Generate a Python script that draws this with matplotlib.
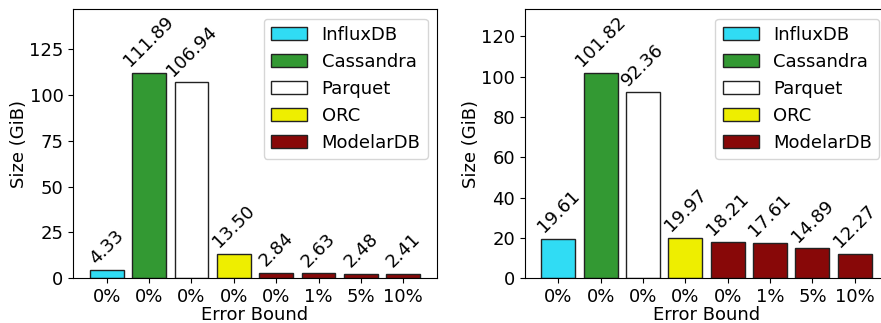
import matplotlib
matplotlib.use("Agg")
import matplotlib.pyplot as plt
from matplotlib.patches import Patch

# data
systems = ["InfluxDB", "Cassandra", "Parquet", "ORC",
           "ModelarDB", "ModelarDB", "ModelarDB", "ModelarDB"]
bounds = ["0%", "0%", "0%", "0%", "0%", "1%", "5%", "10%"]
sizes_left = [4.33, 111.89, 106.94, 13.50, 2.84, 2.63, 2.48, 2.41]
sizes_right = [19.61, 101.82, 92.36, 19.97, 18.21, 17.61, 14.89, 12.27]
left_ticks = [0, 25, 50, 75, 100, 125]
right_ticks = [0, 20, 40, 60, 80, 100, 120]

colors = {
    "InfluxDB": "#30dcf4",
    "Cassandra": "#339933",
    "Parquet": "#ffffff",
    "ORC": "#eeee00",
    "ModelarDB": "#880808",
}
FS = 13


def plot_sizes(ax, sizes, yticks):
    xs = list(range(len(sizes)))
    ax.bar(xs, sizes, width=0.8, color=[colors[s] for s in systems],
           edgecolor="#222222", linewidth=1.0)
    for x, h in zip(xs, sizes):
        ax.annotate("%.2f" % h, (x, h), xytext=(0, 2), textcoords="offset points",
                    rotation=45, ha="center", va="bottom", fontsize=FS)
    ax.set_xticks(xs)
    ax.set_xticklabels(bounds, fontsize=FS)
    ax.set_yticks(yticks)
    ax.tick_params(axis="y", labelsize=FS)
    ax.set_ylim(0, max(sizes) * 1.31)
    ax.set_xlabel("Error Bound", fontsize=FS, labelpad=0)
    ax.set_ylabel("Size (GiB)", fontsize=FS, labelpad=1)
    handles = [Patch(facecolor=colors[k], edgecolor="#222222", label=k) for k in colors]
    ax.legend(handles=handles, loc="upper right", fontsize=FS)


fig = plt.figure(figsize=(8.81, 3.23), dpi=100)
ax1 = fig.add_axes([0.0832, 0.1384, 0.4125, 0.8322])
ax2 = fig.add_axes([0.5957, 0.1384, 0.4125, 0.8322])
plot_sizes(ax1, sizes_left, left_ticks)
plot_sizes(ax2, sizes_right, right_ticks)

fig.savefig("out.png", dpi=100)
